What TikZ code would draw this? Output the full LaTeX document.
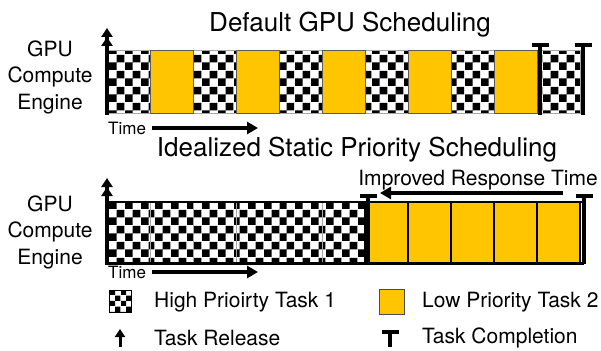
\documentclass[tikz,border=0pt]{standalone}
\usepackage{fontspec}
\setmainfont{TeX Gyre Heros}
\usetikzlibrary{arrows.meta,patterns}
\definecolor{lowyellow}{RGB}{255,197,0}

% checker fill for the high priority task
\pgfdeclarepatternformonly{bigchecker}{\pgfpointorigin}{\pgfqpoint{15.5pt}{15.5pt}}{\pgfqpoint{15.5pt}{15.5pt}}{%
  \pgfpathrectangle{\pgfpointorigin}{\pgfqpoint{7.75pt}{7.75pt}}%
  \pgfpathrectangle{\pgfqpoint{7.75pt}{7.75pt}}{\pgfqpoint{7.75pt}{7.75pt}}%
  \pgfusepath{fill}}
\pgfdeclarepatternformonly{smallchecker}{\pgfpointorigin}{\pgfqpoint{11pt}{11pt}}{\pgfqpoint{11pt}{11pt}}{%
  \pgfpathrectangle{\pgfpointorigin}{\pgfqpoint{5.5pt}{5.5pt}}%
  \pgfpathrectangle{\pgfqpoint{5.5pt}{5.5pt}}{\pgfqpoint{5.5pt}{5.5pt}}%
  \pgfusepath{fill}}

\tikzset{hitask/.style={preaction={fill=white},pattern=bigchecker,draw=gray!70,line width=1pt},
    lotask/.style={fill=lowyellow,draw=gray!70!black,line width=1pt},
    lotaskb/.style={fill=lowyellow,draw=black,line width=1.6pt},
    title/.style={font=\fontsize{26}{30}\selectfont,anchor=base,inner sep=0pt},
    engine/.style={font=\fontsize{21}{26.5}\selectfont,align=center,inner sep=0pt},
    legend/.style={font=\fontsize{21}{25}\selectfont,anchor=west,inner sep=0pt},
    timelabel/.style={font=\fontsize{17}{20}\selectfont,anchor=west,inner sep=0pt},
    release/.style={line width=4pt,-{Triangle[length=9pt,width=11pt]Triangle[length=9pt,width=11pt]}},
    longarrow/.style={line width=4.5pt,-{Triangle[length=11pt,width=12pt]}},
    done/.style={line width=3.5pt,-{Bar[width=17pt,line width=4pt]}}}

\begin{document}
\begin{tikzpicture}[x=1pt,y=-1pt]
\useasboundingbox (0,0) rectangle (601,350);

% default scheduling: tasks take turns
\node[title] (deftitle) at (350,32) {Default GPU Scheduling};
\node[engine] (defengine) at (50,77) {GPU\\Compute\\Engine};
\foreach \x in {107,193,...,537}
    \draw[hitask] (\x,51) rectangle ++(43,62);
\foreach \x in {150,236,...,494}
    \draw[lotask] (\x,51) rectangle ++(43,62);
\coordinate (defaxis) at (107,115);
\coordinate (defrel) at (107,28);
\draw[release] (defaxis) -- (defrel);
\coordinate (deflowbot) at (540,115);
\coordinate (deflowtop) at (540,43);
\coordinate (defhibot) at (583,115);
\coordinate (defhitop) at (583,43);
\draw[done] (deflowbot) -- (deflowtop);
\draw[done] (defhibot) -- (defhitop);
\node[timelabel] (deftime) at (108,128) {Time};
\coordinate (deftimeend) at (258,128);
\draw[longarrow] (deftime.east) ++(6,0) coordinate (deftimestart) -- (deftimeend);

% static priority: task 1 runs first, then task 2
\node[title] (idtitle) at (357,156) {Idealized Static Priority Scheduling};
\node[engine] (idengine) at (50,232) {GPU\\Compute\\Engine};
\foreach \x in {107,150,...,322}
    \draw[hitask] (\x,202) rectangle ++(43,61);
\foreach \x in {365,408,...,537}
    \draw[lotaskb] (\x,202) rectangle ++(43,61);
\draw[line width=2.2pt] (107,202) -- (584,202);
\draw[line width=3pt] (107,263) -- (584,263);
\coordinate (idaxis) at (107,265);
\coordinate (idrel) at (107,178);
\draw[release] (idaxis) -- (idrel);
\coordinate (idhibot) at (368,264);
\coordinate (idhitop) at (368,194);
\coordinate (idlowbot) at (584,264);
\coordinate (idlowtop) at (584,194);
\draw[done] (idhibot) -- (idhitop);
\draw[done] (idlowbot) -- (idlowtop);
\node[font=\fontsize{21}{25}\selectfont,anchor=base,inner sep=0pt] (gain) at (478,185) {Improved Response Time};
\coordinate (gainstart) at (563,193);
\coordinate (gainend) at (380,193);
\draw[longarrow] (gainstart) -- (gainend);
\node[timelabel] (idtime) at (108,272) {Time};
\coordinate (idtimeend) at (258,272);
\draw[longarrow] (idtime.east) ++(6,0) coordinate (idtimestart) -- (idtimeend);

% legend
\draw[preaction={fill=white},pattern=smallchecker,draw=black,line width=0.8pt] (109,290) rectangle (131,312);
\node[legend] (hikey) at (154,302) {High Prioirty Task 1};
\draw[fill=lowyellow,draw=gray!60!black,line width=0.8pt] (379,289) rectangle (404,314);
\node[legend] (lokey) at (422,302) {Low Priority Task 2};
\coordinate (relkeybot) at (120,347);
\coordinate (relkeytop) at (120,329);
\draw[line width=3pt,-{Triangle[length=8pt,width=10pt]}] (relkeybot) -- (relkeytop);
\node[legend] (relkey) at (154,338) {Task Release};
\coordinate (donekeybot) at (390,347);
\coordinate (donekeytop) at (390,330);
\draw[done] (donekeybot) -- (donekeytop);
\node[legend] (donekey) at (422,338) {Task Completion};
\end{tikzpicture}
\end{document}
